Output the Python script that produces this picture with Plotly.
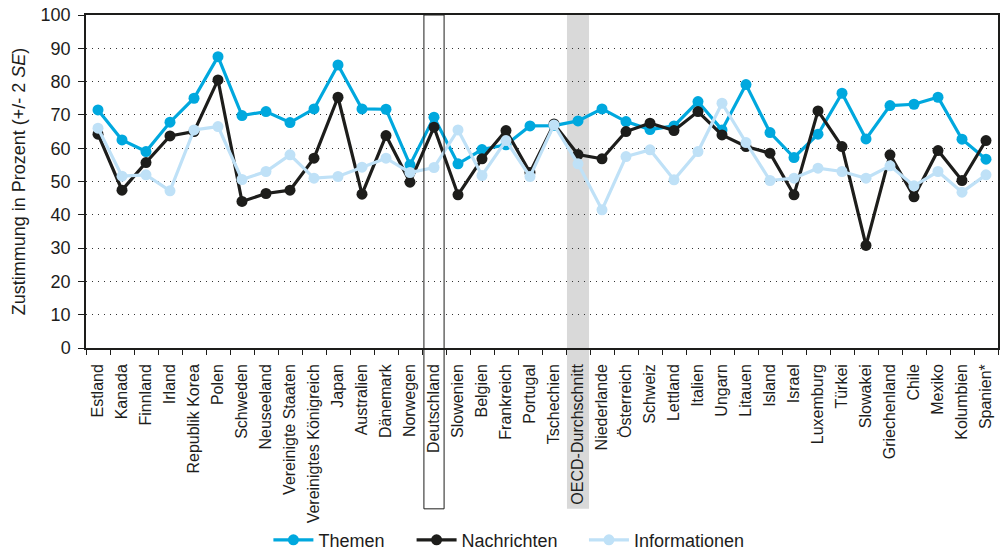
import plotly.graph_objects as go

categories = ["Estland", "Kanada", "Finnland", "Irland", "Republik Korea", "Polen", "Schweden",
              "Neuseeland", "Vereinigte Staaten", "Vereinigtes Königreich", "Japan", "Australien",
              "Dänemark", "Norwegen", "Deutschland", "Slowenien", "Belgien", "Frankreich", "Portugal",
              "Tschechien", "OECD-Durchschnitt", "Niederlande", "Österreich", "Schweiz", "Lettland",
              "Italien", "Ungarn", "Litauen", "Island", "Israel", "Luxemburg", "Türkei", "Slowakei",
              "Griechenland", "Chile", "Mexiko", "Kolumbien", "Spanien*"]

themen = [71.5, 62.5, 59.0, 67.8, 75.0, 87.5, 69.8, 71.0, 67.7, 71.8, 85.0, 71.8,
          71.7, 55.0, 69.3, 55.3, 59.6, 61.0, 66.7, 66.8, 68.2, 71.8, 68.0, 65.6, 66.7,
          74.0, 65.5, 79.1, 64.7, 57.2, 64.2, 76.5, 62.8, 72.8, 73.2, 75.3, 62.7, 56.7]
nachrichten = [64.2, 47.4, 55.7, 63.7, 65.0, 80.5, 44.0, 46.4, 47.4, 57.0, 75.3, 46.2,
               63.8, 49.8, 66.3, 46.0, 56.8, 65.3, 52.7, 67.3, 58.1, 56.8, 65.0, 67.5, 65.3,
               71.0, 64.0, 60.5, 58.5, 46.0, 71.2, 60.5, 30.8, 58.0, 45.4, 59.3, 50.3, 62.3]
informationen = [66.0, 51.6, 52.0, 47.2, 65.5, 66.5, 50.6, 53.0, 58.0, 51.0, 51.5, 54.3,
                 57.0, 52.7, 54.2, 65.5, 51.8, 62.3, 51.5, 67.0, 55.3, 41.5, 57.5, 59.5, 50.5,
                 59.0, 73.5, 61.7, 50.3, 51.0, 54.0, 53.0, 51.0, 54.7, 48.7, 53.0, 46.8, 52.0]

series = [("Themen", themen, "#00a8de", "legend", 0.2),
          ("Nachrichten", nachrichten, "#1d1d1b", "legend2", 0.357),
          ("Informationen", informationen, "#bfe1f7", "legend3", 0.546)]

fig = go.Figure()
for name, vals, col, leg, _ in series:
    fig.add_trace(go.Scatter(x=categories, y=vals, name=name, mode="lines+markers",
                             line=dict(color=col, width=3.2),
                             marker=dict(color=col, size=11), legend=leg))

idx_de = categories.index("Deutschland")
idx_oecd = categories.index("OECD-Durchschnitt")
fig.add_shape(type="rect", xref="x", yref="paper", x0=idx_oecd - 0.46, x1=idx_oecd + 0.46,
              y0=-0.483, y1=1, fillcolor="#d9d9d9", line_width=0, layer="below")
fig.add_shape(type="rect", xref="x", yref="paper", x0=idx_de - 0.42, x1=idx_de + 0.42,
              y0=-0.483, y1=1, line=dict(color="#1d1d1b", width=1), layer="above")

legend_common = dict(orientation="h", xanchor="left", y=-0.577, yanchor="middle",
                     font=dict(size=18), itemwidth=40, bgcolor="rgba(0,0,0,0)")

fig.update_layout(
    width=1004, height=551,
    margin=dict(l=86, r=6, t=15, b=203, autoexpand=False),
    paper_bgcolor="white", plot_bgcolor="rgba(0,0,0,0)",
    font=dict(family="Liberation Sans, Arial, sans-serif", color="#1d1d1b", size=16),
    showlegend=True,
    legend=dict(x=series[0][4], **legend_common),
    legend2=dict(x=series[1][4], **legend_common),
    legend3=dict(x=series[2][4], **legend_common),
)
fig.update_xaxes(type="category", tickangle=-90, tickfont=dict(size=16), automargin=False,
                 showline=True, linecolor="#1d1d1b", linewidth=1.5, mirror=True,
                 ticks="outside", tickson="boundaries", ticklen=5, tickcolor="#1d1d1b",
                 ticklabelstandoff=8,
                 showgrid=False, range=[-0.5, len(categories) - 0.5])
fig.update_yaxes(range=[0, 100], dtick=10, tickfont=dict(size=18), automargin=False,
                 ticklabeloverflow="allow",
                 showline=True, linecolor="#1d1d1b", linewidth=1.5, mirror=True,
                 ticks="outside", ticklen=6, tickcolor="#1d1d1b", ticklabelstandoff=4,
                 showgrid=True, gridcolor="#333333", griddash="1px,5px", gridwidth=1.2,
                 zeroline=False,
                 title=dict(text="Zustimmung in Prozent (+/- 2 <i>SE</i>)", font=dict(size=18), standoff=10))

# remove the browser's default 8px body margin so the figure sits at the page origin
fig.write_html("out.html", config={"displayModeBar": False},
               post_script="document.body.style.margin='0px';")
